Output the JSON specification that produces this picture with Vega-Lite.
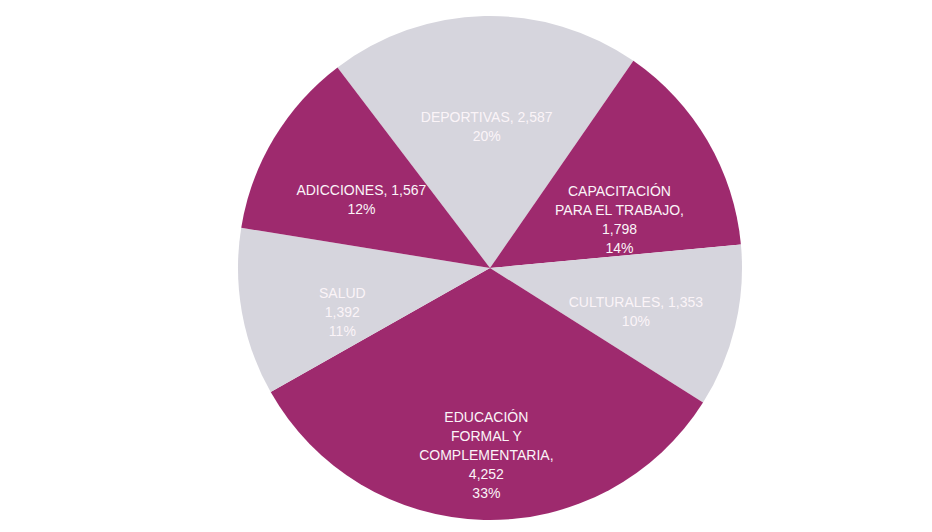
{
  "$schema": "https://vega.github.io/schema/vega-lite/v6.json",
  "width": 932,
  "height": 532,
  "autosize": {"type": "fit", "contains": "padding"},
  "padding": {"left": 48, "top": 4, "right": 0, "bottom": 0},
  "background": "white",
  "view": {"stroke": null},
  "data": {
    "values": [
      {"categoria": "DEPORTIVAS", "valor": 2587, "orden": 1, "grupo": "b", "etiqueta": "DEPORTIVAS, 2,587\n20%"},
      {"categoria": "CAPACITACIÓN PARA EL TRABAJO", "valor": 1798, "orden": 2, "grupo": "a", "etiqueta": "CAPACITACIÓN\nPARA EL TRABAJO,\n1,798\n14%"},
      {"categoria": "CULTURALES", "valor": 1353, "orden": 3, "grupo": "b", "etiqueta": "CULTURALES, 1,353\n10%"},
      {"categoria": "EDUCACIÓN FORMAL Y COMPLEMENTARIA", "valor": 4252, "orden": 4, "grupo": "a", "etiqueta": "EDUCACIÓN\nFORMAL Y\nCOMPLEMENTARIA,\n4,252\n33%"},
      {"categoria": "SALUD", "valor": 1392, "orden": 5, "grupo": "b", "etiqueta": "SALUD\n1,392\n11%"},
      {"categoria": "ADICCIONES", "valor": 1567, "orden": 6, "grupo": "a", "etiqueta": "ADICCIONES, 1,567\n12%"}
    ]
  },
  "encoding": {
    "theta": {"field": "valor", "type": "quantitative", "stack": true, "scale": {"range": [-0.65, 5.6332]}},
    "order": {"field": "orden", "type": "quantitative"}
  },
  "layer": [
    {
      "mark": {"type": "arc", "outerRadius": 252},
      "encoding": {
        "color": {
          "field": "grupo",
          "type": "nominal",
          "scale": {"domain": ["a", "b"], "range": ["#9E2A6E", "#D6D5DD"]},
          "legend": null
        }
      }
    },
    {
      "mark": {"type": "text", "radius": 150, "font": "Liberation Sans", "fontSize": 14, "lineBreak": "\n", "lineHeight": 19, "align": "center", "baseline": "middle", "fill": "#FBF4F8"},
      "encoding": {
        "text": {"field": "etiqueta", "type": "nominal"}
      }
    }
  ]
}
